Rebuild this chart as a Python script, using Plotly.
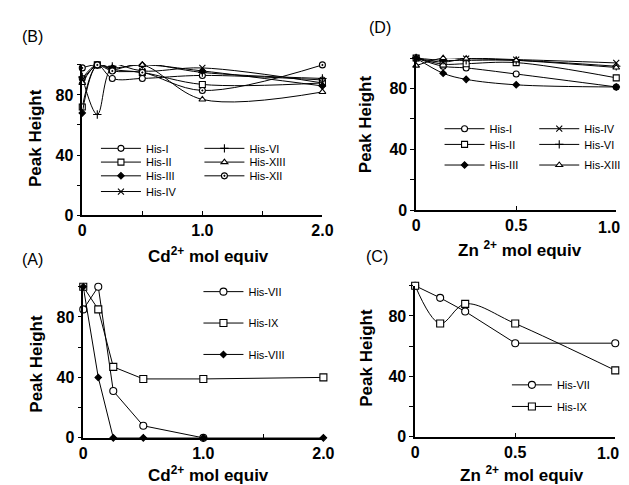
import plotly.graph_objects as go

W, H = 629, 485

# ---------------- data ----------------
cd_x = [0, 0.125, 0.25, 0.5, 1.0, 2.0]
zn_x = [0, 0.135, 0.25, 0.5, 1.0]
zn_c_x = [0, 0.125, 0.25, 0.5, 1.0]

# Panel B (Cd2+)
b_his_I = [91, 100, 91, 91, 93, 90]
b_his_II = [72, 100, 97, 95, 87, 88]
b_his_III = [68, 100, 98, 100, 96, 86]
b_his_IV = [90, 100, 101, 96, 98, 88]
b_his_VI = [92, 67, 99, 101, 95, 91]
b_his_XIII = [88, 100, 97, 100, 77, 82]
b_his_XII = [98, 100, 96, 95, 83, 100]

# Panel D (Zn2+)
d_his_I = [100, 94.6, 93.5, 89.5, 81]
d_his_II = [100, 96, 96.3, 97, 87]
d_his_III = [100, 90, 86, 82.4, 81]
d_his_IV = [100, 97.4, 99.6, 99, 96.8]
d_his_VI = [100, 98.5, 98.5, 98.5, 94.6]
d_his_XIII = [95, 100, 99.6, 98.5, 93.8]

# Panel A (Cd2+)
a_his_VII = [85, 100, 31, 8, 0, None]
a_his_IX = [100, 85, 47, 39, 39, 40]
a_his_VIII = [100, 40, 0, 0, 0, 0]

# Panel C (Zn2+)
c_his_VII = [100, 92, 83, 62, 62]
c_his_IX = [100, 75, 88, 75, 44]

cd_ticks = [0, 1.0, 2.0]
cd_ticktext = ["0", "1.0", "2.0"]
cd_minor = [0.5, 1.5]
zn_ticks = [0, 0.5]
zn_ticktext = ["0", "0.5"]
zn_minor = [1.0]
y_ticks = [0, 40, 80]
y_ticktext = ["0", "40", "80"]
y_minor = [20, 60, 100]

FONT = "Liberation Sans"


def fx(p):
    return p / W


def fy(p):
    return 1 - p / H


fig = go.Figure()

legends = {}
leg_count = [0]

# symbol name -> (plotly symbol, fill colour)
SYM = {
    "circle": ("circle", "white"),
    "square": ("square", "white"),
    "triangle": ("triangle-up", "white"),
    "diamond": ("diamond", "black"),
    "x": ("x-thin", "black"),
    "cross": ("cross-thin", "black"),
    "circle-dot": ("circle-dot", "white"),
}


def add(x, y, name, sym, xa, ya, lx, ly, shape="spline", size=6):
    leg_count[0] += 1
    key = "legend" if leg_count[0] == 1 else f"legend{leg_count[0]}"
    symbol, fill = SYM[sym]
    fig.add_trace(go.Scatter(
        x=x, y=y, name=name, mode="lines+markers",
        line=dict(color="black", width=1, shape=shape),
        marker=dict(symbol=symbol, size=size, color=fill,
                    line=dict(color="black", width=1.1)),
        xaxis=xa, yaxis=ya, cliponaxis=False, legend=key,
        connectgaps=False,
    ))
    legends[key] = dict(
        x=fx(lx), y=fy(ly), xanchor="left", yanchor="middle",
        bgcolor="rgba(0,0,0,0)", borderwidth=0, itemwidth=40,
        font=dict(family=FONT, size=11, color="black"),
        tracegroupgap=0,
    )


# Panel B
add(cd_x, b_his_I, "His-I", "circle", "x", "y", 86, 143)
add(cd_x, b_his_II, "His-II", "square", "x", "y", 86, 157)
add(cd_x, b_his_III, "His-III", "diamond", "x", "y", 86, 171, size=5)
add(cd_x, b_his_IV, "His-IV", "x", "x", "y", 86, 187)
add(cd_x, b_his_VI, "His-VI", "cross", "x", "y", 192, 143)
add(cd_x, b_his_XIII, "His-XIII", "triangle", "x", "y", 192, 157)
add(cd_x, b_his_XII, "His-XII", "circle-dot", "x", "y", 192, 171)

# Panel D
add(zn_x, d_his_I, "His-I", "circle", "x2", "y2", 438, 123)
add(zn_x, d_his_II, "His-II", "square", "x2", "y2", 438, 139)
add(zn_x, d_his_III, "His-III", "diamond", "x2", "y2", 438, 160, size=5)
add(zn_x, d_his_IV, "His-IV", "x", "x2", "y2", 535, 123)
add(zn_x, d_his_VI, "His-VI", "cross", "x2", "y2", 535, 139)
add(zn_x, d_his_XIII, "His-XIII", "triangle", "x2", "y2", 535, 160)

# Panel A
add(cd_x, a_his_VII, "His-VII", "circle", "x3", "y3", 191, 289, shape="linear", size=7)
add(cd_x, a_his_IX, "His-IX", "square", "x3", "y3", 191, 321, shape="linear", size=7)
add(cd_x, a_his_VIII, "His-VIII", "diamond", "x3", "y3", 191, 353, shape="linear", size=5)

# Panel C
add(zn_c_x, c_his_VII, "His-VII", "circle", "x4", "y4", 507, 384, shape="linear", size=7)
add(zn_c_x, c_his_IX, "His-IX", "square", "x4", "y4", 507, 406, shape="spline", size=7)

tickfont = dict(family=FONT, size=16, color="black", weight="bold")


def xaxis(dom, anchor, rng, tv, tt, mv):
    return dict(domain=dom, anchor=anchor, range=rng, tickvals=tv, ticktext=tt,
                ticks="inside", ticklen=4, tickwidth=1, tickcolor="black",
                minor=dict(tickvals=mv, ticks="inside", ticklen=4, tickwidth=1,
                           tickcolor="black", showgrid=False),
                showline=True, linecolor="black", linewidth=1.5, showgrid=False,
                zeroline=False, tickfont=tickfont, fixedrange=True)


def yaxis(dom, anchor):
    return dict(domain=dom, anchor=anchor, range=[0, 100], tickvals=y_ticks,
                ticktext=y_ticktext, ticks="outside", ticklen=4, tickwidth=1,
                tickcolor="black",
                minor=dict(tickvals=y_minor, ticks="outside", ticklen=4, tickwidth=1,
                           tickcolor="black", showgrid=False),
                showline=True, linecolor="black", linewidth=1.5,
                showgrid=False, zeroline=False, tickfont=tickfont, fixedrange=True)


layout = dict(
    width=W, height=H, margin=dict(l=0, r=0, t=0, b=0),
    paper_bgcolor="white", plot_bgcolor="white",
    font=dict(family=FONT, color="black"),
    xaxis=xaxis([fx(72), fx(318)], "y", [0, 2.0], cd_ticks, cd_ticktext, cd_minor),
    yaxis=yaxis([fy(211), fy(58)], "x"),
    xaxis2=xaxis([fx(414), fx(619)], "y2", [0, 1.0], zn_ticks, zn_ticktext, zn_minor),
    yaxis2=yaxis([fy(206), fy(51)], "x2"),
    xaxis3=xaxis([fx(73), fx(319)], "y3", [0, 2.0], cd_ticks, cd_ticktext, cd_minor),
    yaxis3=yaxis([fy(438), fy(284)], "x3"),
    xaxis4=xaxis([fx(413), fx(618)], "y4", [0, 1.0], zn_ticks, zn_ticktext, zn_minor),
    yaxis4=yaxis([fy(437), fy(283)], "x4"),
    showlegend=True,
)
layout.update(legends)
fig.update_layout(**layout)

title_font = dict(family=FONT, size=17, color="black", weight="bold")
label_font = dict(family=FONT, size=16, color="black")


def ann(text, x, y, font, angle=0):
    fig.add_annotation(text=text, x=fx(x), y=fy(y), xref="paper", yref="paper",
                       showarrow=False, font=font, textangle=angle,
                       xanchor="center", yanchor="middle")


# panel labels
ann("(B)", 21, 29, label_font)
ann("(D)", 377, 20, label_font)
ann("(A)", 21, 256, label_font)
ann("(C)", 374, 253, label_font)

# right-end tick labels of the Zn axes (shifted inward as in the original)
ann("1.0", 612, 224, tickfont)
ann("1.0", 611, 454, tickfont)

# axis titles
ann("Cd<sup>2+</sup> mol equiv", 201, 252, title_font)
ann("Cd<sup>2+</sup> mol equiv", 201, 475, title_font)
ann("Zn <sup>2+</sup> mol equiv", 520, 246, title_font)
ann("Zn <sup>2+</sup> mol equiv", 522, 475, title_font)
ann("Peak Height", 24, 132, title_font, -90)
ann("Peak Height", 362, 118, title_font, -90)
ann("Peak Height", 25, 362, title_font, -90)
ann("Peak Height", 363, 356, title_font, -90)

fig.write_html("out.html")
